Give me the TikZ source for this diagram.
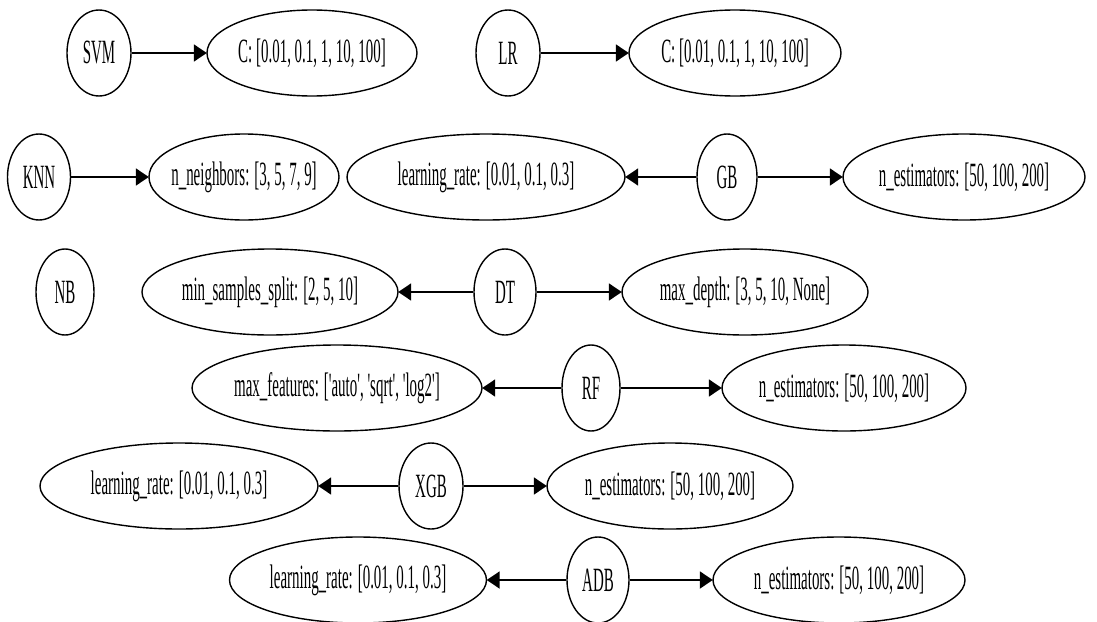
\documentclass[tikz,border=0pt]{standalone}
\usepackage{fontspec}
\usetikzlibrary{shapes.geometric,arrows.meta}
\newfontfamily\gfont[FakeStretch=0.44]{Liberation Serif}
\newcommand{\lbl}[1]{\makebox[0pt]{#1}}
\begin{document}
\begin{tikzpicture}[x=1pt,y=-1pt,
  every node/.style={font=\gfont\fontsize{34}{36}\selectfont},
  model/.style={ellipse, draw, line width=1.4pt, inner sep=0pt, minimum height=86pt, minimum width=#1},
  model/.default=60pt,
  param/.style={ellipse, draw, line width=1.4pt, inner sep=0pt, minimum height=86pt, minimum width=#1},
  edge/.style={line width=1.9pt, -{Triangle[length=13pt,width=17pt]}, shorten >=-0.5pt}]
\fill[white] (0,0) rectangle (1097,621);
\useasboundingbox (0,0) rectangle (1097,621);

% row 1
\node[model=64pt] (svm) at (99,53) {\lbl{SVM}};
\node[param=210pt] (svmC) at (312,53) {\lbl{C: [0.01, 0.1, 1, 10, 100]}};
\node[model=64pt] (lr) at (508,53) {\lbl{LR}};
\node[param=212pt] (lrC) at (735,53) {\lbl{C: [0.01, 0.1, 1, 10, 100]}};
\draw[edge] (svm) -- (svmC);
\draw[edge] (lr) -- (lrC);

% row 2
\node[model=63pt] (knn) at (39,177) {\lbl{KNN}};
\node[param=190pt] (knnN) at (244,177) {\lbl{n\_neighbors: [3, 5, 7, 9]}};
\node[param=278pt] (gbLR) at (486,177) {\lbl{learning\_rate: [0.01, 0.1, 0.3]}};
\node[model=60pt] (gb) at (727,177) {\lbl{GB}};
\node[param=242pt] (gbN) at (964,177) {\lbl{n\_estimators: [50, 100, 200]}};
\draw[edge] (knn) -- (knnN);
\draw[edge] (gb) -- (gbLR);
\draw[edge] (gb) -- (gbN);

% row 3
\node[model=58pt] (nb) at (65,292) {\lbl{NB}};
\node[param=256pt] (dtS) at (270,292) {\lbl{min\_samples\_split: [2, 5, 10]}};
\node[model=62pt] (dt) at (505,292) {\lbl{DT}};
\node[param=246pt] (dtD) at (745,292) {\lbl{max\_depth: [3, 5, 10, None]}};
\draw[edge] (dt) -- (dtS);
\draw[edge] (dt) -- (dtD);

% row 4
\node[param=290pt] (rfF) at (337,388) {\lbl{max\_features: ['auto', 'sqrt', 'log2']}};
\node[model=58pt] (rf) at (591,388) {\lbl{RF}};
\node[param=244pt] (rfN) at (844,388) {\lbl{n\_estimators: [50, 100, 200]}};
\draw[edge] (rf) -- (rfF);
\draw[edge] (rf) -- (rfN);

% row 5
\node[param=278pt] (xgbLR) at (179,486) {\lbl{learning\_rate: [0.01, 0.1, 0.3]}};
\node[model=64pt] (xgb) at (431,486) {\lbl{XGB}};
\node[param=246pt] (xgbN) at (670,486) {\lbl{n\_estimators: [50, 100, 200]}};
\draw[edge] (xgb) -- (xgbLR);
\draw[edge] (xgb) -- (xgbN);

% row 6
\node[param=257pt] (adbLR) at (358,580) {\lbl{learning\_rate: [0.01, 0.1, 0.3]}};
\node[model=62pt] (adb) at (598,580) {\lbl{ADB}};
\node[param=252pt] (adbN) at (839,580) {\lbl{n\_estimators: [50, 100, 200]}};
\draw[edge] (adb) -- (adbLR);
\draw[edge] (adb) -- (adbN);
\end{tikzpicture}
\end{document}
